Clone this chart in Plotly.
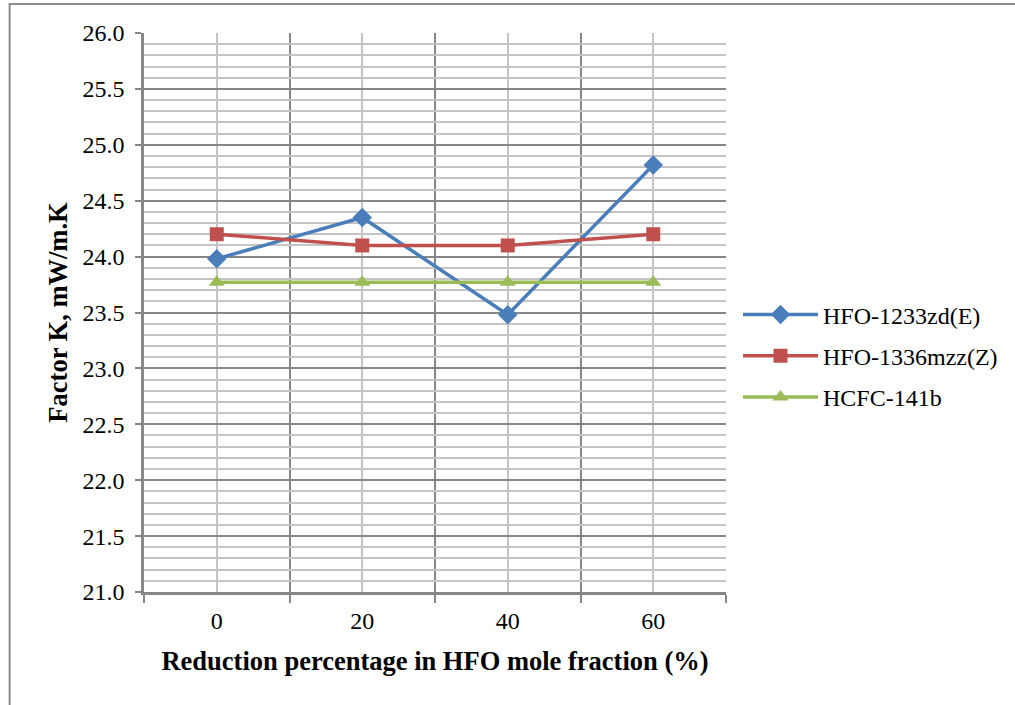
import plotly.graph_objects as go

categories = ["0", "20", "40", "60"]
hfo_1233zd = [23.98, 24.35, 23.48, 24.82]
hfo_1336mzz = [24.20, 24.10, 24.10, 24.20]
hcfc_141b = [23.77, 23.77, 23.77, 23.77]
series_names = ["HFO-1233zd(E)", "HFO-1336mzz(Z)", "HCFC-141b"]
y_ticks = [21.0, 21.5, 22.0, 22.5, 23.0, 23.5, 24.0, 24.5, 25.0, 25.5, 26.0]

W, H = 1015, 705
L, R, T, B = 143.5, 726, 33, 592
FONT = "Liberation Serif"

xpos = list(range(len(categories)))
colors = ["#4A7EBB", "#C0504D", "#9BBB59"]
symbols = ["diamond", "square", "triangle-up"]
msizes = [15, 14, 14]

fig = go.Figure()
for i, (name, vals) in enumerate(zip(series_names, [hfo_1233zd, hfo_1336mzz, hcfc_141b])):
    fig.add_trace(go.Scatter(
        x=xpos, y=vals, name=name, mode="lines+markers",
        line=dict(color=colors[i], width=3.5),
        marker=dict(symbol=symbols[i], size=msizes[i], color=colors[i]),
        legendgroup=name,
    ))

major_grid = "#878787"
minor_grid = "#c4c4c4"

fig.update_layout(
    width=W, height=H,
    margin=dict(l=L, r=W - R, t=T, b=H - B, pad=0),
    paper_bgcolor="white", plot_bgcolor="white",
    font=dict(family=FONT, size=24, color="black"),
    showlegend=True,
    legend=dict(
        x=(738 - L) / (R - L), xanchor="left",
        y=((B - T) - (356 - T)) / (B - T), yanchor="middle",
        font=dict(family=FONT, size=24, color="black"),
        bgcolor="rgba(0,0,0,0)", borderwidth=0,
        traceorder="grouped", tracegroupgap=7,
        itemwidth=75,
    ),
    xaxis=dict(
        range=[-0.5, len(categories) - 0.5],
        tickmode="array", tickvals=xpos, ticktext=categories,
        ticks="", showgrid=True, gridcolor=minor_grid, gridwidth=1.5,
        showline=True, linecolor=major_grid, linewidth=2.5,
        tickfont=dict(family=FONT, size=24), ticklabelstandoff=5,
        zeroline=False, fixedrange=True,
        minor=dict(tickmode="array",
                   tickvals=[p - 0.5 for p in xpos] + [xpos[-1] + 0.5],
                   ticks="outside", ticklen=8, tickwidth=1.5, tickcolor=major_grid,
                   showgrid=True, gridcolor=major_grid, gridwidth=1.5),
        title=dict(text="<b>Reduction percentage in HFO mole fraction (%)</b>",
                   font=dict(family=FONT, size=26.5), standoff=19),
    ),
    yaxis=dict(
        range=[y_ticks[0], y_ticks[-1]],
        tickmode="array", tickvals=y_ticks, ticktext=[f"{v:.1f}" for v in y_ticks],
        ticks="outside", ticklen=6, tickwidth=1.5, tickcolor=major_grid,
        showgrid=True, gridcolor=major_grid, gridwidth=1.5,
        showline=True, linecolor=major_grid, linewidth=2.5,
        tickfont=dict(family=FONT, size=24), ticklabelstandoff=6,
        zeroline=False, fixedrange=True,
        minor=dict(dtick=0.1, tick0=21.0, ticks="", showgrid=True,
                   gridcolor=minor_grid, gridwidth=1.5),
        title=dict(text="<b>Factor K, mW/m.K</b>",
                   font=dict(family=FONT, size=26.5), standoff=8),
    ),
)

# outer chart border (extends off the right and bottom edges)
pw, ph = R - L, B - T
fig.add_shape(type="rect", xref="paper", yref="paper",
              x0=(9 - L) / pw, x1=(W + 20 - L) / pw,
              y0=(B - (H + 20)) / ph, y1=(B - 4) / ph,
              line=dict(color="#8c8c8c", width=2), fillcolor="rgba(0,0,0,0)",
              layer="below")

fig.write_html("out.html",
               config={"displayModeBar": False},
               post_script="document.body.style.margin='0';document.body.style.overflow='hidden';")
